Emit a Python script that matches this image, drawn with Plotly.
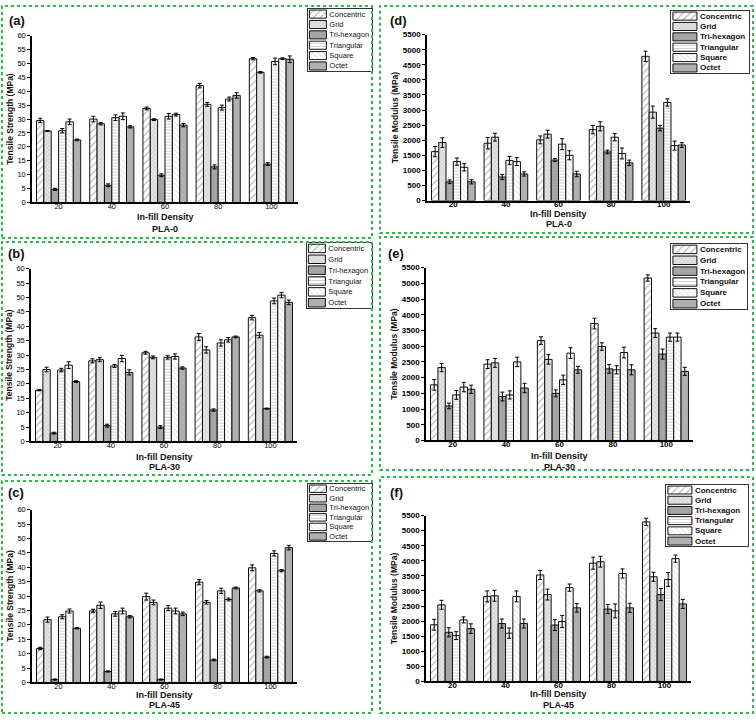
import plotly.graph_objects as go

W, H = 756, 722

density = ["20", "40", "60", "80", "100"]
series_names = ["Concentric", "Grid", "Tri-hexagon", "Triangular", "Square", "Octet"]

# (a) Tensile strength, PLA-0  (rows: series, cols: density)
a_vals = [[29.5, 30.0, 33.8, 42.0, 51.7],
          [25.7, 28.3, 29.8, 35.3, 46.8],
          [4.7, 6.2, 9.8, 12.8, 13.8],
          [25.8, 30.5, 31.0, 34.1, 50.7],
          [29.0, 31.0, 31.6, 37.2, 51.7],
          [22.5, 27.2, 27.8, 38.5, 51.5]]
a_err = [[0.8, 1.0, 0.5, 0.8, 0.4],
         [0.2, 0.4, 0.3, 0.7, 0.3],
         [0.4, 0.5, 0.5, 0.7, 0.5],
         [0.8, 1.0, 1.0, 0.9, 1.2],
         [1.0, 1.2, 0.5, 0.7, 0.3],
         [0.3, 0.4, 0.6, 1.0, 1.2]]

# (b) Tensile strength, PLA-30
b_vals = [[17.8, 28.0, 30.8, 36.3, 43.0],
          [25.0, 28.4, 29.2, 31.8, 36.9],
          [2.9, 5.5, 5.0, 10.9, 11.4],
          [24.8, 26.2, 29.2, 34.2, 48.8],
          [26.5, 28.8, 29.5, 35.3, 50.8],
          [20.8, 24.0, 25.5, 36.3, 48.3]]
b_err = [[0.2, 0.7, 0.5, 1.2, 0.8],
         [0.8, 0.7, 0.5, 1.1, 0.9],
         [0.3, 0.5, 0.5, 0.4, 0.2],
         [0.6, 0.5, 0.6, 1.1, 1.0],
         [1.2, 1.1, 0.9, 0.8, 0.9],
         [0.3, 0.9, 0.4, 0.3, 0.8]]

# (c) Tensile strength, PLA-45
c_vals = [[11.8, 24.8, 29.8, 34.8, 39.8],
          [21.8, 26.8, 27.8, 27.8, 31.8],
          [1.0, 3.8, 1.0, 7.8, 8.8],
          [22.8, 23.8, 25.8, 31.8, 44.8],
          [24.8, 24.8, 24.8, 28.8, 38.8],
          [18.8, 22.8, 23.8, 32.8, 46.8]]
c_err = [[0.4, 0.6, 1.2, 0.9, 1.0],
         [0.9, 1.1, 0.8, 0.6, 0.4],
         [0.2, 0.2, 0.2, 0.3, 0.3],
         [0.7, 0.8, 0.9, 0.9, 0.9],
         [0.7, 1.0, 1.0, 0.5, 0.4],
         [0.2, 0.4, 0.6, 0.3, 0.8]]

# (d) Tensile modulus, PLA-0
d_vals = [[1620, 1900, 2010, 2350, 4780],
          [1920, 2100, 2200, 2460, 2930],
          [620, 780, 1340, 1610, 2400],
          [1290, 1330, 1870, 2100, 3250],
          [1100, 1290, 1500, 1560, 1820],
          [620, 880, 880, 1250, 1840]]
d_err = [[170, 190, 130, 140, 170],
         [160, 130, 130, 150, 200],
         [60, 80, 50, 60, 90],
         [120, 130, 180, 120, 120],
         [120, 130, 150, 180, 150],
         [70, 70, 90, 90, 80]]

# (e) Tensile modulus, PLA-30
e_vals = [[1770, 2430, 3180, 3720, 5170],
          [2320, 2470, 2580, 2990, 3420],
          [1100, 1400, 1500, 2280, 2750],
          [1450, 1450, 1930, 2250, 3290],
          [1700, 2500, 2780, 2800, 3290],
          [1630, 1670, 2250, 2250, 2200]]
e_err = [[170, 140, 120, 170, 100],
         [130, 140, 150, 120, 140],
         [90, 140, 110, 140, 160],
         [140, 130, 150, 130, 130],
         [150, 150, 170, 170, 130],
         [130, 150, 110, 160, 130]]

# (f) Tensile modulus, PLA-45
f_vals = [[1880, 2820, 3530, 3920, 5290],
          [2540, 2840, 2880, 3970, 3470],
          [1630, 1920, 1870, 2400, 2880],
          [1520, 1600, 1990, 2340, 3380],
          [2040, 2820, 3110, 3580, 4070],
          [1750, 1920, 2440, 2440, 2570]]
f_err = [[180, 180, 150, 200, 120],
         [150, 180, 180, 180, 150],
         [150, 150, 180, 150, 200],
         [130, 170, 200, 230, 230],
         [100, 180, 120, 150, 120],
         [160, 150, 140, 150, 150]]

FONT = "Arial, Liberation Sans, sans-serif"
GREEN = "#2fba4a"

styles = [
    dict(color="white", pattern=dict(shape="/", fgcolor="#6e6e6e", bgcolor="white", size=5, solidity=0.22, fillmode="overlay")),
    dict(color="#e4e4e4", pattern=dict(shape="x", fgcolor="#a8a8a8", bgcolor="#e4e4e4", size=3, solidity=0.3, fillmode="overlay")),
    dict(color="#a8a8a8", pattern=dict(shape="+", fgcolor="#939393", bgcolor="#a8a8a8", size=3, solidity=0.3, fillmode="overlay")),
    dict(color="white", pattern=dict(shape="-", fgcolor="#9a9a9a", bgcolor="white", size=3, solidity=0.3, fillmode="overlay")),
    dict(color="white", pattern=dict(shape="\\", fgcolor="#a8a8a8", bgcolor="white", size=4, solidity=0.2, fillmode="overlay")),
    dict(color="#b0b0b0", pattern=dict(shape="", fgcolor="#b0b0b0", bgcolor="#b0b0b0")),
]


def px_x(p):
    return p / W


def px_y(p):
    return 1 - p / H


# panel geometry in pixels
panels = [
    dict(key="a", vals=a_vals, err=a_err, ytitle="Tensile Strength (MPa)", sub="PLA-0",
         plot=(32, 298, 32, 201), leg=(308, 372, 5, 68), lab=(17, 17), xt=(216, 228),
         border=(2, 372, 2, 237), rng=60, dt=5, bold=False, stand=2, sw=17),
    dict(key="b", vals=b_vals, err=b_err, ytitle="Tensile Strength (MPa)", sub="PLA-30",
         plot=(31, 297, 268, 443), leg=(307, 372, 242, 308), lab=(16, 253), xt=(459, 469),
         border=(2, 372, 241, 477), rng=60, dt=5, bold=False, stand=2, sw=17),
    dict(key="c", vals=c_vals, err=c_err, ytitle="Tensile Strength (MPa)", sub="PLA-45",
         plot=(32, 297, 512, 687), leg=(308, 372, 486, 544), lab=(16, 495), xt=(700, 710),
         border=(2, 372, 483, 718), rng=60, dt=5, bold=False, stand=2, sw=17),
    dict(key="d", vals=d_vals, err=d_err, ytitle="Tensile Modulus (MPa)", sub="PLA-0",
         plot=(427, 690, 31, 199), leg=(671, 749, 7, 70), lab=(398, 17), xt=(213, 223),
         border=(380, 753, 2, 232), rng=5500, dt=500, bold=True, stand=3, sw=24),
    dict(key="e", vals=e_vals, err=e_err, ytitle="Tensile Modulus (MPa)", sub="PLA-30",
         plot=(426, 693, 267, 442), leg=(671, 747, 243, 309), lab=(396, 253), xt=(458, 469),
         border=(380, 753, 236, 472), rng=5500, dt=500, bold=True, stand=3, sw=24),
    dict(key="f", vals=f_vals, err=f_err, ytitle="Tensile Modulus (MPa)", sub="PLA-45",
         plot=(426, 691, 518, 686), leg=(666, 748, 487, 549), lab=(396, 495), xt=(699, 710),
         border=(380, 753, 479, 718), rng=5500, dt=500, bold=True, stand=3, sw=24),
]

fig = go.Figure()
layout = dict(
    width=W, height=H, margin=dict(l=0, r=0, t=0, b=0),
    paper_bgcolor="white", plot_bgcolor="white",
    barmode="group", bargap=0.17, bargroupgap=0.0,
    showlegend=False, font=dict(family=FONT, color="#111"),
)
annotations = []
shapes = []

n = len(panels)
for i, p in enumerate(panels):
    ax = i + 1
    lax = i + 1 + n
    xs = "" if ax == 1 else str(ax)
    xa, ya = "x" + xs, "y" + xs
    lx, ly = "x" + str(lax), "y" + str(lax)
    x0, x1, y0, y1 = p["plot"]
    tick_font = dict(family=FONT, size=8 if p["bold"] else 7.5, color="black")
    if p["bold"]:
        tick_font["weight"] = "bold"
    layout["xaxis" + xs] = dict(
        domain=[px_x(x0), px_x(x1)], anchor=ya, type="category",
        categoryorder="array", categoryarray=density,
        showline=True, linecolor="black", linewidth=1.5, ticks="",
        showgrid=False, zeroline=False, tickfont=tick_font,
        ticklabelstandoff=-5 if p["bold"] else -4,
    )
    layout["yaxis" + xs] = dict(
        domain=[px_y(y1), px_y(y0)], anchor=xa, range=[0, p["rng"]], dtick=p["dt"],
        showline=True, linecolor="black", linewidth=1.5, ticks="outside", ticklen=3,
        tickcolor="black", showgrid=False, zeroline=False, tickfont=tick_font,
        title=dict(text="<b>" + p["ytitle"] + "</b>", font=dict(family=FONT, size=8.5, color="#111"),
                   standoff=p["stand"]),
    )
    for s, name in enumerate(series_names):
        st = styles[s]
        fig.add_trace(go.Bar(
            x=density, y=p["vals"][s], name=name, xaxis=xa, yaxis=ya,
            marker=dict(color=st["color"], pattern=st["pattern"], line=dict(color="#111", width=1)),
            error_y=dict(type="data", array=p["err"][s], color="black", thickness=1, width=2),
            showlegend=False,
        ))

    # legend box drawn as a tiny bar chart of swatches
    lx0, lx1, ly0, ly1 = p["leg"]
    wpx = lx1 - lx0
    layout["xaxis" + str(lax)] = dict(
        domain=[px_x(lx0), px_x(lx1)], anchor=ly, range=[0, wpx / p["sw"]],
        showline=True, mirror=True, linecolor="#333", linewidth=1,
        showticklabels=False, ticks="", showgrid=False, zeroline=False, fixedrange=True,
    )
    layout["yaxis" + str(lax)] = dict(
        domain=[px_y(ly1), px_y(ly0)], anchor=lx, type="category",
        categoryorder="array", categoryarray=series_names[::-1],
        showline=True, mirror=True, linecolor="#333", linewidth=1,
        showticklabels=False, ticks="", showgrid=False, zeroline=False, fixedrange=True,
    )
    leg_font = dict(family=FONT, size=8 if p["bold"] else 7.5, color="#111")
    if p["bold"]:
        leg_font["weight"] = "bold"
    for s, name in enumerate(series_names):
        st = styles[s]
        fig.add_trace(go.Bar(
            y=[name], x=[1], base=[0.08], orientation="h", xaxis=lx, yaxis=ly,
            offsetgroup="legend", width=0.78,
            marker=dict(color=st["color"], pattern=st["pattern"], line=dict(color="#111", width=1)),
            text=[name], textposition="outside", textfont=leg_font, constraintext="none",
            cliponaxis=False, showlegend=False, hoverinfo="skip",
        ))

    # panel label
    annotations.append(dict(text="<b>(" + p["key"] + ")</b>", x=px_x(p["lab"][0]), y=px_y(p["lab"][1]),
                            xref="paper", yref="paper", showarrow=False,
                            xanchor="center", yanchor="middle",
                            font=dict(family=FONT, size=13, color="#111")))
    # x titles
    annotations.append(dict(text="<b>In-fill Density</b>", x=0.5, xref=xa + " domain",
                            y=px_y(p["xt"][0]), yref="paper", showarrow=False,
                            xanchor="center", yanchor="middle",
                            font=dict(family=FONT, size=9, color="#111")))
    annotations.append(dict(text="<b>" + p["sub"] + "</b>", x=0.5, xref=xa + " domain",
                            y=px_y(p["xt"][1]), yref="paper", showarrow=False,
                            xanchor="center", yanchor="middle",
                            font=dict(family=FONT, size=9, color="#111")))
    bx0, bx1, by0, by1 = p["border"]
    shapes.append(dict(type="rect", xref="paper", yref="paper",
                       x0=px_x(bx0), x1=px_x(bx1), y0=px_y(by1), y1=px_y(by0),
                       line=dict(color=GREEN, width=2, dash="dot")))

layout["annotations"] = annotations
layout["shapes"] = shapes
fig.update_layout(**layout)
fig.write_html("out.html", config={"displayModeBar": False},
               post_script="document.body.style.margin='0px';")
